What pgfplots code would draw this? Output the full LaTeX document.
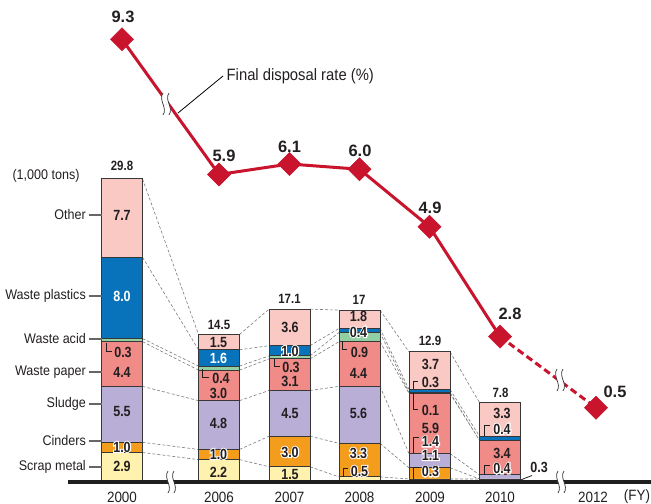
\documentclass[border=0pt]{standalone}
\usepackage{fontspec}
\setmainfont{Liberation Sans}[FakeStretch=0.9]
\newfontfamily\numfont{Liberation Sans}[FakeStretch=0.85]
\newfontfamily\halofont{Liberation Sans}[FakeStretch=0.85, FakeBold=14]
\newfontfamily\ratefont{Liberation Sans}
\usepackage{pgfplots}
\usepackage{pgfplotstable}
\pgfplotsset{compat=1.18}

\definecolor{cScrap}{RGB}{255,242,175}
\definecolor{cCind}{RGB}{244,156,28}
\definecolor{cSludge}{RGB}{185,174,214}
\definecolor{cPaper}{RGB}{240,139,135}
\definecolor{cAcid}{RGB}{146,208,164}
\definecolor{cPlast}{RGB}{8,114,186}
\definecolor{cOther}{RGB}{250,201,196}
\definecolor{cLine}{RGB}{200,20,45}
\definecolor{txt}{RGB}{35,31,32}
\definecolor{barline}{RGB}{55,55,55}
\definecolor{conn}{RGB}{125,125,125}

\newcommand\halo[1]{\makebox[0pt][c]{\halofont\bfseries\color{white}#1}\makebox[0pt][c]{#1}}
\newcommand\brk[2]{%
 \fill[white,shift={(axis cs:#1,#2)}] (-3bp,11bp) .. controls (-8bp,4bp) and (2bp,-4bp) .. (-3bp,-11bp) -- (3bp,-11bp) .. controls (8bp,-4bp) and (-2bp,4bp) .. (3bp,11bp) -- cycle;
 \draw[black!80,line width=0.7bp,shift={(axis cs:#1,#2)}] (-3bp,11bp) .. controls (-8bp,4bp) and (2bp,-4bp) .. (-3bp,-11bp);
 \draw[black!80,line width=0.7bp,shift={(axis cs:#1,#2)}] (3bp,11bp) .. controls (-2bp,4bp) and (8bp,-4bp) .. (3bp,-11bp);}
\newcommand\catlab[2]{%
 \node[cat, anchor=east] at (axis cs:86,#1) {#2};
 \draw[black!60, line width=1.2bp] (axis cs:88.5,#1) -- (axis cs:101.5,#1);}

\tikzset{
 cat/.style={font=\fontsize{14}{16}\selectfont, text=txt, inner sep=0pt},
 seg/.style={font=\numfont\bfseries\fontsize{14.8}{16}\selectfont, text=txt, inner sep=0pt},
 tot/.style={font=\numfont\bfseries\fontsize{13.5}{15}\selectfont, text=txt, inner sep=0pt},
 rate/.style={font=\ratefont\bfseries\fontsize{16.5}{18}\selectfont, text=txt, inner sep=0pt},
 yr/.style={font=\fontsize{15}{17}\selectfont, text=txt, inner sep=0pt},
 brak/.style={txt, line width=0.8bp},
}

% amounts in 1,000 tons (bottom to top)
\pgfplotstableread{
x   scrap cind sludge paper acid plast other
122   2.9 1.0  5.5    4.4   0.3  8.0   7.7
219   2.2 1.0  4.8    3.0   0.4  1.6   1.5
289.5 1.5 3.0  4.5    3.1   0.3  1.0   3.6
359.5 0.5 3.3  5.6    4.4   0.9  0.4   1.8
429.5 0.3 1.1  1.4    5.9   0.1  0.3   3.7
500   0.3 0.0  0.4    3.4   0.0  0.4   3.3
}\bars

% final disposal rate (%); 2000 and 2012 drawn across the scale breaks
\pgfplotstableread{
x     y
122   8.484
219   5.9
289.5 6.1
359.5 6.0
429.5 4.9
500   2.8
}\rate

\pgfplotsset{base/.style={at={(0,0)}, anchor=south west, scale only axis,
  width=651bp, height=504bp, xmin=0, xmax=651, hide axis, clip=false}}

\begin{document}
\begin{tikzpicture}
% dashed connectors
\begin{axis}[base, ymin=-2.163, ymax=47.394, unbounded coords=jump]
\addplot[conn, line width=0.6bp, dash pattern=on 3bp off 2bp] coordinates {
(142.5,2.9) (198.5,2.2) (nan,nan) (142.5,3.9) (198.5,3.2) (nan,nan)
(142.5,9.4) (198.5,8.0) (nan,nan) (142.5,13.8) (198.5,11.0) (nan,nan)
(142.5,14.1) (198.5,11.4) (nan,nan) (142.5,22.1) (198.5,13.0) (nan,nan)
(142.5,29.8) (198.5,14.5)};
\addplot[conn, line width=0.6bp, dash pattern=on 3bp off 2bp] coordinates {
(239.5,2.2) (269,1.5) (nan,nan) (239.5,3.2) (269,4.5) (nan,nan)
(239.5,8.0) (269,9.0) (nan,nan) (239.5,11.0) (269,12.1) (nan,nan)
(239.5,11.4) (269,12.4) (nan,nan) (239.5,13.0) (269,13.4) (nan,nan)
(239.5,14.5) (269,17.0)};
\addplot[conn, line width=0.6bp, dash pattern=on 3bp off 2bp] coordinates {
(310,1.5) (339,0.5) (nan,nan) (310,4.5) (339,3.8) (nan,nan)
(310,9.0) (339,9.4) (nan,nan) (310,12.1) (339,13.8) (nan,nan)
(310,12.4) (339,14.7) (nan,nan) (310,13.4) (339,15.1) (nan,nan)
(310,17.0) (339,16.9)};
\addplot[conn, line width=0.6bp, dash pattern=on 3bp off 2bp] coordinates {
(380,0.5) (409,0.3) (nan,nan) (380,3.8) (409,1.4) (nan,nan)
(380,9.4) (409,2.8) (nan,nan) (380,13.8) (409,8.7) (nan,nan)
(380,14.7) (409,8.8) (nan,nan) (380,15.1) (409,9.1) (nan,nan)
(380,16.9) (409,12.8)};
\addplot[conn, line width=0.6bp, dash pattern=on 3bp off 2bp] coordinates {
(450,0.3) (479.5,0.3) (nan,nan) (450,1.4) (479.5,0.3) (nan,nan)
(450,2.8) (479.5,0.7) (nan,nan) (450,8.7) (479.5,4.1) (nan,nan)
(450,8.8) (479.5,4.1) (nan,nan) (450,9.1) (479.5,4.5) (nan,nan)
(450,12.8) (479.5,7.8)};
\end{axis}

% stacked bars
\begin{axis}[base, ymin=-2.163, ymax=47.394, ybar stacked, bar width=41,
  every axis plot/.append style={draw=barline, line width=0.9bp}]
\addplot[fill=cScrap]  table[x=x,y=scrap]{\bars};
\addplot[fill=cCind]   table[x=x,y=cind]{\bars};
\addplot[fill=cSludge] table[x=x,y=sludge]{\bars};
\addplot[fill=cPaper]  table[x=x,y=paper]{\bars};
\addplot[fill=cAcid]   table[x=x,y=acid]{\bars};
\addplot[fill=cPlast]  table[x=x,y=plast]{\bars};
\addplot[fill=cOther]  table[x=x,y=other]{\bars};
\end{axis}

% final disposal rate line
\begin{axis}[base, ymin=-0.401, ymax=9.236]
\addplot[cLine, line width=3bp, dash pattern=on 7bp off 4bp] coordinates {(500,2.8) (596,1.44)};
\addplot[cLine, line width=3bp, mark=square*, mark size=8.2pt,
  mark options={rotate=45, solid, fill=cLine, draw=cLine, line width=0.5bp}] table[x=x,y=y]{\rate};
\addplot[only marks, mark=square*, mark size=8.2pt,
  mark options={rotate=45, fill=cLine, draw=cLine, line width=0.5bp}] coordinates {(596,1.44)};
\end{axis}

% annotations (pixel coordinates)
\begin{axis}[base, name=ann, ymin=0, ymax=504, y dir=reverse]
% baseline
\draw[black!88, line width=4bp] (68,482) -- (651,482);
\brk{171}{482}
\brk{561}{482}
\brk{166}{104}
\brk{560}{380}
% category labels
\node[cat] at (46,176) {(1,000 tons)};
\catlab{215}{Other}
\catlab{296}{Waste plastics}
\catlab{339}{Waste acid}
\catlab{372}{Waste paper}
\catlab{404}{Sludge}
\catlab{441}{Cinders}
\catlab{467}{Scrap metal}
% totals
\node[tot] at (122,166) {29.8};
\node[tot] at (219,325) {14.5};
\node[tot] at (289.5,299) {17.1};
\node[tot] at (359,300) {17};
\node[tot] at (430,341) {12.9};
\node[tot] at (500.5,393) {7.8};
% 2000
\node[seg] at (122,215) {7.7};
\node[seg, text=white] at (122,296) {8.0};
\node[seg] at (123,352) {0.3};
\draw[brak] (106,342.5) |- (112,351);
\node[seg] at (122,372) {4.4};
\node[seg] at (122,411) {5.5};
\node[seg] at (122,447) {\halo{1.0}};
\node[seg] at (122,466) {2.9};
% 2006
\node[seg] at (218.5,342) {1.5};
\node[seg, text=white] at (218.5,358) {1.6};
\node[seg] at (221,378) {0.4};
\draw[brak] (202,368.5) |- (209,377);
\node[seg] at (218.5,393) {3.0};
\node[seg] at (218.5,423) {4.8};
\node[seg] at (218.5,454) {\halo{1.0}};
\node[seg] at (218.5,472) {2.2};
% 2007
\node[seg] at (290,327) {3.6};
\node[seg] at (290,351) {\halo{1.0}};
\node[seg] at (291,367) {0.3};
\draw[brak] (274,359) |- (279.5,366);
\node[seg] at (290,381) {3.1};
\node[seg] at (290,413) {4.5};
\node[seg] at (290,452) {\halo{3.0}};
\node[seg] at (290,474) {1.5};
% 2008
\node[seg] at (358.5,316) {1.8};
\node[seg] at (358.5,332) {\halo{0.4}};
\node[seg] at (359.5,352) {0.9};
\draw[brak] (342.5,341) |- (347,349);
\node[seg] at (358.5,373) {4.4};
\node[seg] at (358.5,413) {5.6};
\node[seg] at (358.5,453) {\halo{3.3}};
\node[seg] at (359.5,471) {\halo{0.5}};
\draw[brak] (348,468.5) -| (343.5,477);
% 2009
\node[seg] at (430.5,364) {3.7};
\node[seg] at (430.5,382) {0.3};
\draw[brak] (418,381.5) -| (413,389);
\node[seg] at (430.5,410) {0.1};
\draw[brak] (413,393) |- (418,409);
\node[seg] at (430.5,428) {5.9};
\node[seg] at (430.5,441.5) {\halo{1.4}};
\draw[brak] (419,437.5) -| (413.3,453);
\node[seg] at (430.5,455) {\halo{1.1}};
\node[seg] at (430.5,471.5) {\halo{0.3}};
\draw[brak] (419,467.5) -| (413.3,478.5);
% 2010
\node[seg] at (502,413) {3.3};
\node[seg] at (502,429) {\halo{0.4}};
\draw[brak] (490,425.5) -| (484,436);
\node[seg] at (502,453) {3.4};
\node[seg] at (502,468.5) {\halo{0.4}};
\draw[brak] (490,465) -| (484,474.5);
\node[seg] at (539,467) {0.3};
\draw[brak] (520.5,480) -- (532,475.5);
% years
\node[yr] at (122,497) {2000};
\node[yr] at (219,497) {2006};
\node[yr] at (289.5,497) {2007};
\node[yr] at (359.5,497) {2008};
\node[yr] at (430,497) {2009};
\node[yr] at (500,497) {2010};
\node[yr] at (593,497) {2012};
\node[yr] at (637,497) {(FY)};
% rate labels
\node[rate] at (123,17) {9.3};
\node[rate] at (224,156) {5.9};
\node[rate] at (289.5,147) {6.1};
\node[rate] at (360,151) {6.0};
\node[rate] at (430,208) {4.9};
\node[rate] at (510,314) {2.8};
\node[rate] at (615,392) {0.5};
\node[cat, anchor=west, font=\fontsize{16.5}{18}\selectfont] at (226.5,76) {Final disposal rate (\%)};
\draw[black, line width=0.8bp] (223,76) -- (178,113);
\end{axis}
\pgfresetboundingbox
\path[use as bounding box] (ann.south west) rectangle (ann.north east);
\end{tikzpicture}
\end{document}
